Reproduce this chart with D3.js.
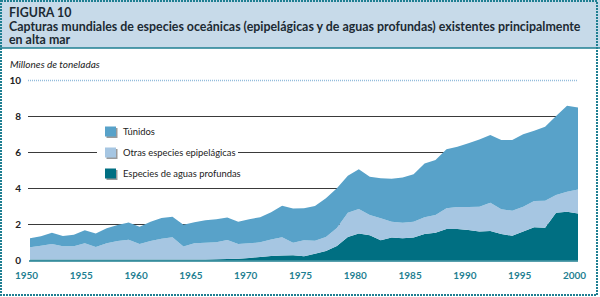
<!DOCTYPE html>
<html>
<head>
<meta charset="utf-8">
<script src="https://cdnjs.cloudflare.com/ajax/libs/d3/7.8.5/d3.min.js"></script>
<style>
  body { margin: 0; background: #fff; }
  svg { display: block; font-family: Lato, "Open Sans", sans-serif; }
</style>
</head>
<body>
<svg class="graph" width="600" height="297"></svg>
<script>
var years = d3.range(1950, 2001);
// millones de toneladas
var profundas = [0.05, 0.05, 0.05, 0.05, 0.05, 0.05, 0.05, 0.05, 0.05, 0.05,
  0.05, 0.05, 0.05, 0.05, 0.05, 0.05, 0.06, 0.07, 0.08, 0.10,
  0.14, 0.20, 0.25, 0.28, 0.29, 0.24, 0.37, 0.52, 0.80, 1.30,
  1.50, 1.40, 1.12, 1.28, 1.23, 1.28, 1.47, 1.54, 1.75, 1.74,
  1.69, 1.60, 1.64, 1.47, 1.37, 1.60, 1.84, 1.82, 2.65, 2.70, 2.61];
var epipelagicas = [0.68, 0.77, 0.86, 0.74, 0.74, 0.90, 0.70, 0.90, 1.03, 1.10,
  0.86, 1.03, 1.16, 1.24, 0.72, 0.90, 0.93, 0.94, 1.06, 0.81,
  0.81, 0.81, 0.92, 1.01, 0.70, 0.88, 0.73, 0.78, 1.00, 1.35,
  1.35, 1.12, 1.22, 0.87, 0.86, 0.87, 0.92, 0.98, 1.14, 1.22,
  1.28, 1.38, 1.56, 1.37, 1.39, 1.38, 1.46, 1.49, 0.98, 1.11, 1.33];
var tunidos = [0.50, 0.52, 0.63, 0.57, 0.64, 0.72, 0.75, 0.83, 0.89, 0.96,
  0.96, 1.07, 1.14, 1.14, 1.21, 1.17, 1.24, 1.27, 1.24, 1.24,
  1.34, 1.39, 1.51, 1.75, 1.89, 1.77, 1.92, 2.15, 2.20, 2.05,
  2.20, 2.12, 2.21, 2.38, 2.51, 2.63, 2.99, 3.05, 3.27, 3.34,
  3.52, 3.73, 3.75, 3.84, 3.92, 4.01, 3.89, 4.10, 4.37, 4.77, 4.53];
var seriesKeys = ["profundas", "epipelagicas", "tunidos"];
var seriesNames = ["Especies de aguas profundas", "Otras especies epipelágicas", "Túnidos"];
var seriesColors = ["#006f82", "#a6c6e2", "#58a2c9"];
var yTicks = [0, 2, 4, 6, 8, 10];
var xTicks = [1950, 1955, 1960, 1965, 1970, 1975, 1980, 1985, 1990, 1995, 2000];

var svgElem = d3.select("svg.graph"),
    width = +svgElem.attr("width"),
    height = +svgElem.attr("height");

var teal = "#1f7f92";

// title band
svgElem.append("rect")
    .attr("x", 0).attr("y", 0).attr("width", width).attr("height", 48)
    .attr("fill", "#c7dae9");
svgElem.append("line")
    .attr("x1", 0).attr("x2", width).attr("y1", 48).attr("y2", 48)
    .attr("stroke", teal).attr("stroke-width", 1.5);

var title = svgElem.append("text")
    .attr("x", 9).attr("fill", "#1c2a33")
    .style("font-weight", "bold").style("font-size", "12.4px");
title.append("tspan").attr("x", 9).attr("y", 17).text("FIGURA 10");
title.append("tspan").attr("x", 9).attr("y", 30.5)
    .text("Capturas mundiales de especies oceánicas (epipelágicas y de aguas profundas) existentes principalmente");
title.append("tspan").attr("x", 9).attr("y", 44).text("en alta mar");

var data = years.map(function (yr, i) {
    return { year: yr, profundas: profundas[i], epipelagicas: epipelagicas[i], tunidos: tunidos[i] };
});

var x = d3.scaleLinear().domain([1950, 2000]).range([30, 578]);
var y = d3.scaleLinear().domain([0, 10]).range([260.5, 80]);

var g = svgElem.append("g");

// gridlines
g.selectAll(".grid")
    .data(yTicks.filter(function (d) { return d > 0; }))
    .enter().append("line")
    .attr("class", "grid")
    .attr("x1", 28).attr("x2", 577)
    .attr("y1", function (d) { return Math.round(y(d)) + 0.5; })
    .attr("y2", function (d) { return Math.round(y(d)) + 0.5; })
    .attr("stroke", function (d) { return d === 10 ? "#93bcdc" : "#3a3a3a"; })
    .attr("stroke-width", function (d) { return d === 10 ? 1.5 : 1; })
    .attr("stroke-dasharray", function (d) { return d === 10 ? "1,1" : null; });

g.append("text")
    .attr("x", 10).attr("y", 68)
    .style("font-style", "italic").style("font-size", "10px").attr("fill", "#222")
    .text("Millones de toneladas");

// y labels
g.selectAll(".ylab")
    .data(yTicks)
    .enter().append("text")
    .attr("class", "ylab")
    .attr("x", 21)
    .attr("y", function (d) { return y(d); })
    .attr("dy", ".35em")
    .style("text-anchor", "end").style("font-weight", "bold").style("font-size", "10px")
    .attr("fill", "#222")
    .text(function (d) { return d; });

var stack = d3.stack().keys(seriesKeys);
var layers = stack(data);

var area = d3.area()
    .x(function (d) { return x(d.data.year); })
    .y0(function (d) { return y(d[0]); })
    .y1(function (d) { return y(d[1]); });

g.selectAll(".layer")
    .data(layers)
    .enter().append("path")
    .attr("class", "layer")
    .attr("fill", function (d, i) { return seriesColors[i]; })
    .attr("d", area);

g.append("line")
    .attr("x1", 29).attr("x2", 578)
    .attr("y1", y(0) + 0.5).attr("y2", y(0) + 0.5)
    .attr("stroke", teal).attr("stroke-width", 1.5);

// x axis labels
var xAxis = d3.axisBottom(x).tickValues(xTicks).tickSize(0).tickFormat(d3.format("d"));
var ax = g.append("g")
    .attr("transform", "translate(-4," + (y(0) + 8) + ")")
    .call(xAxis);
ax.select(".domain").remove();
ax.selectAll("text")
    .attr("fill", teal).style("font-weight", "bold").style("font-size", "10px")
    .style("font-family", "Lato, sans-serif");

// legend
var legendRows = [2, 1, 0].map(function (k) {
    return { name: seriesNames[k], color: seriesColors[k] };
});
var ly = d3.scaleLinear().domain([0, 2]).range([131.5, 173.5]);

g.append("rect")
    .attr("x", 97).attr("y", 122).attr("width", 141).attr("height", 60)
    .attr("fill", "#fff");

var leg = g.selectAll(".leg")
    .data(legendRows)
    .enter().append("g")
    .attr("class", "leg")
    .attr("transform", function (d, i) { return "translate(105," + ly(i) + ")"; });

leg.append("rect")
    .attr("x", 1.5).attr("y", -3.5).attr("width", 11).attr("height", 10)
    .attr("fill", "#9a9a9a");
leg.append("rect")
    .attr("x", 0).attr("y", -5).attr("width", 11).attr("height", 10)
    .attr("fill", function (d) { return d.color; });
leg.append("text")
    .attr("x", 18).attr("dy", ".35em")
    .style("font-size", "9.4px").attr("fill", "#222")
    .text(function (d) { return d.name; });

// frame
svgElem.append("rect")
    .attr("x", 1).attr("y", 1).attr("width", width - 4).attr("height", height - 3)
    .attr("fill", "none").attr("stroke", teal).attr("stroke-width", 2)
    .attr("stroke-dasharray", "2,1");
</script>
</body>
</html>
